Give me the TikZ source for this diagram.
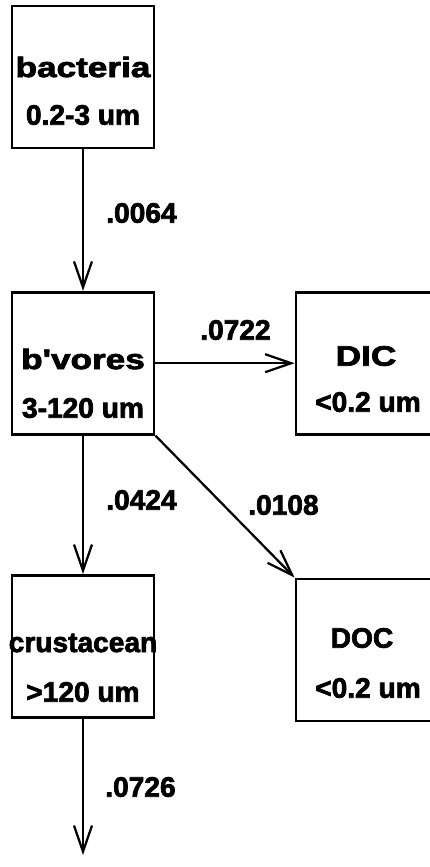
\documentclass[tikz,border=0pt]{standalone}
\usepackage{fontspec}
\setmainfont{Liberation Sans}[BoldFeatures={FakeBold=2.5}]
\usetikzlibrary{arrows.meta}
\newcommand{\wideword}[1]{\scalebox{1.25}[1]{#1}}
\tikzset{
  >={Straight Barb[length=6.5mm,width=4.5mm]},
  pool/.style={draw,line width=2pt,minimum width=35.5mm,minimum height=35.5mm,inner sep=0pt},
  name tag/.style={font=\fontsize{20}{24}\selectfont\bfseries,inner sep=0pt},
  flow/.style={->,line width=1.6pt},
  rate/.style={font=\fontsize{20}{24}\selectfont\bfseries,anchor=west,inner sep=0pt},
}
\begin{document}
\begin{tikzpicture}
  \useasboundingbox (0,0) rectangle (10.75,-21.675);
  % compartments
  \node[pool] (bact) at (2.075,-1.925) {};
  \node[pool] (bv) at (2.075,-9.08) {};
  \node[pool] (dic) at (9.175,-9.08) {};
  \node[pool] (crus) at (2.075,-16.16) {};
  \node[pool] (doc) at (9.175,-16.25) {};
  \coordinate (sink) at (2.075,-21.375);
  % names and size classes
  \node[name tag] (bact-n) at (2.075,-1.675) {\wideword{bacteria}};
  \node[name tag] (bact-s) at (2.075,-2.875) {0.2-3 um};
  \node[name tag] (bv-n) at (2.075,-8.975) {\wideword{b\textquotesingle vores}};
  \node[name tag] (bv-s) at (2.075,-10.2) {3-120 um};
  \node[name tag] (dic-n) at (9.15,-8.9) {\wideword{DIC}};
  \node[name tag] (dic-s) at (9.2,-10.05) {<0.2 um};
  \node[name tag] (crus-n) at (2.075,-16.075) {crustacean};
  \node[name tag] (crus-s) at (2.075,-17.3) {>120 um};
  \node[name tag] (doc-n) at (9.05,-15.95) {DOC};
  \node[name tag] (doc-s) at (9.2,-17.2) {<0.2 um};
  % flows
  \draw[flow] (bact) -- (bv);
  \draw[flow] (bv) -- (dic);
  \draw[flow] (bv) -- (crus);
  \draw[flow] (bv.south east) -- (doc.north west);
  \draw[flow] (crus) -- (sink);
  \node[rate] (r1) at (2.65,-5.325) {.0064};
  \node[rate] (r2) at (5.0,-8.25) {.0722};
  \node[rate] (r3) at (2.65,-12.5) {.0424};
  \node[rate] (r4) at (6.2,-12.625) {.0108};
  \node[rate] (r5) at (2.625,-19.675) {.0726};
\end{tikzpicture}
\end{document}
